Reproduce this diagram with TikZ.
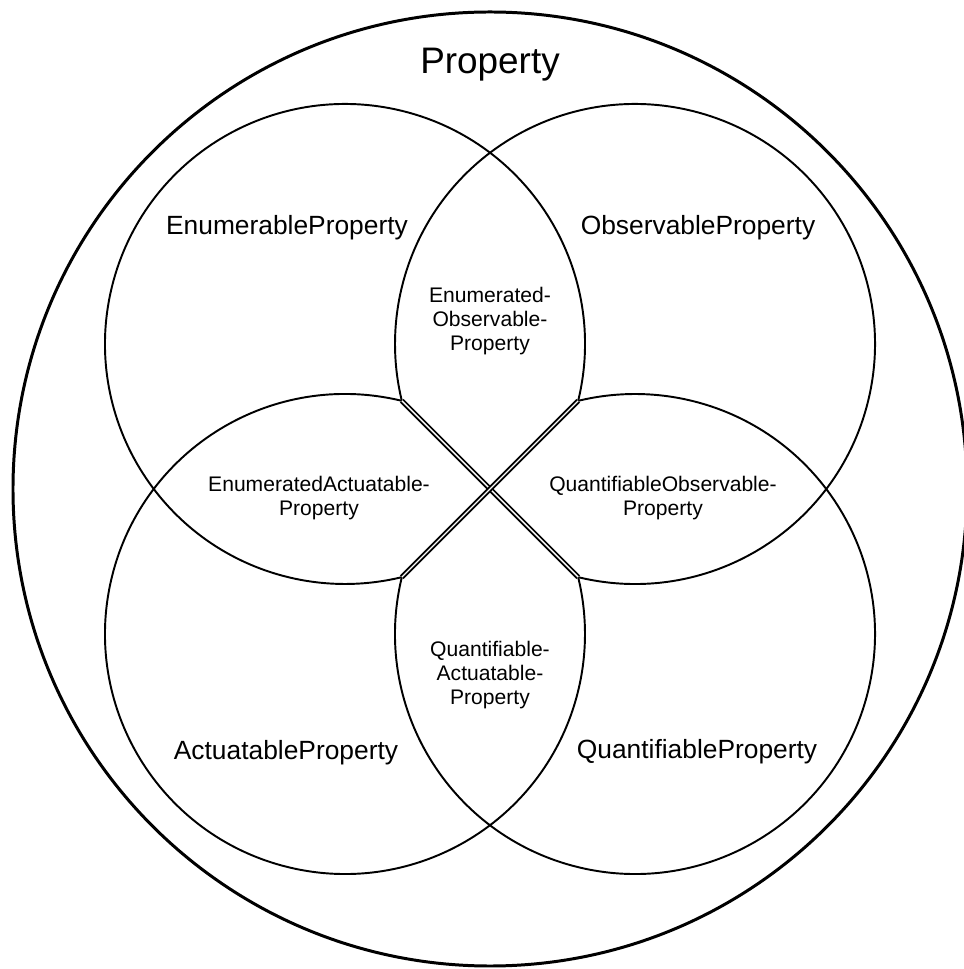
\documentclass[tikz,border=0pt]{standalone}
\usepackage{fontspec}
\setmainfont{Liberation Sans}
\usetikzlibrary{calc}
\tikzset{
  ring/.style={black, line width=1.1pt},
  outerring/.style={black, line width=1.7pt},
  cut/.style={black, double=white, line width=1.1pt, double distance=0.8pt},
  titlelabel/.style={font=\fontsize{21}{24}\selectfont},
  biglabel/.style={font=\fontsize{15}{18}\selectfont},
  smalllabel/.style={font=\fontsize{12}{13.6}\selectfont, align=center},
}

\begin{document}
\begin{tikzpicture}
    %Values
    \def\a{2.9};
    \def\r{4.8};
    \def\t{1.764};
    \def\h{31.3};

    \useasboundingbox (-9.8,-9.6) rectangle (9.46,9.78);

    \coordinate (tl) at (-\a,\a);
    \coordinate (tr) at (\a,\a);
    \coordinate (bl) at (-\a,-\a);
    \coordinate (br) at (\a,-\a);

    \coordinate (p1) at (-\t,\t);
    \coordinate (p2) at (\t,\t);
    \coordinate (p3) at (\t,-\t);
    \coordinate (p4) at (-\t,-\t);

    \draw[outerring] (0,0) circle [radius=9.54];

    % circles, left open in the middle
    \draw[ring] ($(tl)+(-45+\h:\r)$) arc[start angle=-45+\h, delta angle=360-2*\h, radius=\r];
    \draw[ring] ($(tr)+(225+\h:\r)$) arc[start angle=225+\h, delta angle=360-2*\h, radius=\r];
    \draw[ring] ($(bl)+(45+\h:\r)$) arc[start angle=45+\h, delta angle=360-2*\h, radius=\r];
    \draw[ring] ($(br)+(135+\h:\r)$) arc[start angle=135+\h, delta angle=360-2*\h, radius=\r];

    \draw[cut] (p1) -- (p3);
    \draw[cut] (p2) -- (p4);

    % Labels
    \node[titlelabel] (prop) at (0,8.48) {Property};

    \node[biglabel] (enum) at (-4.06,5.22) {EnumerableProperty};
    \node[biglabel] (obs) at (4.16,5.22) {ObservableProperty};
    \node[biglabel] (act) at (-4.08,-5.28) {ActuatableProperty};
    \node[biglabel] (quant) at (4.14,-5.26) {QuantifiableProperty};

    \node[smalllabel] (enumobs) at (0,3.36) {Enumerated-\\Observable-\\Property};
    \node[smalllabel] (quantact) at (0,-3.72) {Quantifiable-\\Actuatable-\\Property};
    \node[smalllabel] (enumact) at (-3.42,-0.18) {EnumeratedActuatable-\\Property};
    \node[smalllabel] (quantobs) at (3.46,-0.18) {QuantifiableObservable-\\Property};
\end{tikzpicture}
\end{document}
